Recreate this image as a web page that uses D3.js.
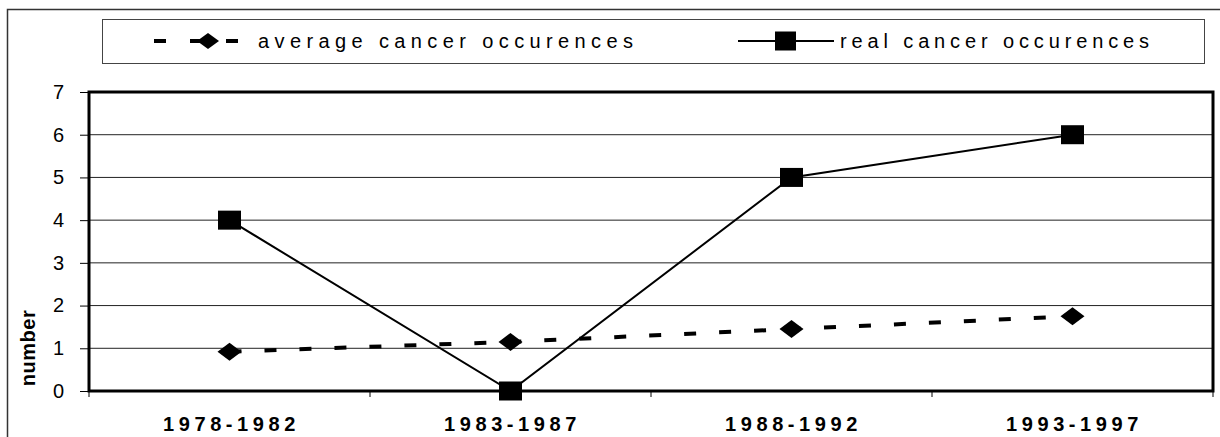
<!DOCTYPE html>
<html>
<head>
<meta charset="utf-8">
<script src="https://cdn.jsdelivr.net/npm/d3@7"></script>
<style>
    body { margin: 0; background: #fff; }
    svg { display: block; font-family: "Liberation Sans", Arial, sans-serif; }
</style>
</head>
<body>
<div id="chart"></div>
<script>
// data
const periods = ["1978-1982", "1983-1987", "1988-1992", "1993-1997"];
const averageCases = [0.92, 1.15, 1.45, 1.75];
const realCases = [4, 0, 5, 6];
const yTicks = [0, 1, 2, 3, 4, 5, 6, 7];
const seriesNames = ["average cancer occurences", "real cancer occurences"];

const width = 1220, height = 437;
const margin = { top: 92, right: 7, bottom: 46, left: 89 };

const svg = d3.select("#chart")
    .append("svg")
    .attr("width", width)
    .attr("height", height);

// outer frame (runs off the right and bottom edge)
svg.append("rect")
    .attr("x", 7.5).attr("y", 9.5)
    .attr("width", width).attr("height", height)
    .attr("fill", "none")
    .attr("stroke", "#333")
    .attr("stroke-width", 1.5);

// scales
const x = d3.scaleBand()
    .domain(periods)
    .range([margin.left, width - margin.right])
    .padding(0);

const y = d3.scaleLinear()
    .domain([0, 7])
    .range([height - margin.bottom, margin.top]);

const plotL = margin.left, plotR = width - margin.right;
const plotT = margin.top, plotB = height - margin.bottom;

// gridlines
svg.append("g")
    .selectAll("line")
    .data(yTicks.filter(d => d > 0 && d < 7))
    .join("line")
    .attr("x1", plotL).attr("x2", plotR)
    .attr("y1", d => y(d)).attr("y2", d => y(d))
    .attr("stroke", "#222")
    .attr("stroke-width", 1);

// Y axis
const yAxis = svg.append("g")
    .attr("transform", `translate(${plotL},0)`)
    .call(d3.axisLeft(y).tickValues(yTicks).tickSize(9).tickPadding(16).tickFormat(d3.format("d")));
yAxis.select(".domain").remove();
yAxis.selectAll(".tick line").attr("stroke", "#000");
yAxis.selectAll(".tick text")
    .attr("font-size", 20)
    .attr("font-family", "Liberation Sans, Arial, sans-serif")
    .attr("fill", "#000");

// X axis ticks at band boundaries
const bounds = periods.map(p => x(p)).concat([x.range()[1]]);
svg.append("g")
    .selectAll("line")
    .data(bounds)
    .join("line")
    .attr("x1", d => d).attr("x2", d => d)
    .attr("y1", plotB).attr("y2", plotB + 6)
    .attr("stroke", "#000")
    .attr("stroke-width", 1);

// category labels
svg.append("g")
    .selectAll("text")
    .data(periods)
    .join("text")
    .attr("x", d => x(d) + x.bandwidth() / 2 + 2)
    .attr("y", 431)
    .attr("text-anchor", "middle")
    .attr("font-size", 20)
    .attr("font-weight", "bold")
    .attr("letter-spacing", 4.6)
    .text(d => d);

// plot frame
svg.append("rect")
    .attr("x", plotL).attr("y", plotT)
    .attr("width", plotR - plotL).attr("height", plotB - plotT)
    .attr("fill", "none")
    .attr("stroke", "#000")
    .attr("stroke-width", 3);

// axis title
svg.append("text")
    .attr("transform", `translate(35,348) rotate(-90)`)
    .attr("text-anchor", "middle")
    .attr("font-size", 20)
    .attr("font-weight", "bold")
    .attr("letter-spacing", 0.5)
    .text("number");

const cx = d => x(d) + x.bandwidth() / 2;

const avgData = periods.map((p, i) => ({ p, v: averageCases[i] }));
const realData = periods.map((p, i) => ({ p, v: realCases[i] }));

const line = d3.line().x(d => cx(d.p)).y(d => y(d.v));

// average line (dashed)
svg.append("path")
    .datum(avgData)
    .attr("d", line)
    .attr("fill", "none")
    .attr("stroke", "#000")
    .attr("stroke-width", 4)
    .attr("stroke-dasharray", "12,23");

// real line
svg.append("path")
    .datum(realData)
    .attr("d", line)
    .attr("fill", "none")
    .attr("stroke", "#000")
    .attr("stroke-width", 2);

function diamond(px, py, w, h) {
    return `M${px - w / 2},${py}L${px},${py - h / 2}L${px + w / 2},${py}L${px},${py + h / 2}Z`;
}

svg.append("g")
    .selectAll("path")
    .data(avgData)
    .join("path")
    .attr("d", d => diamond(cx(d.p), y(d.v), 24, 18))
    .attr("fill", "#000");

svg.append("g")
    .selectAll("rect")
    .data(realData)
    .join("rect")
    .attr("x", d => cx(d.p) - 11.5)
    .attr("y", d => y(d.v) - 9.5)
    .attr("width", 23)
    .attr("height", 19)
    .attr("fill", "#000");

// legend
const legend = svg.append("g");
legend.append("rect")
    .attr("x", 102.5).attr("y", 19.5)
    .attr("width", 1102).attr("height", 44)
    .attr("fill", "#fff")
    .attr("stroke", "#444")
    .attr("stroke-width", 1);

const ly = 41;
legend.append("line")
    .attr("x1", 154).attr("x2", 238)
    .attr("y1", ly).attr("y2", ly)
    .attr("stroke", "#000")
    .attr("stroke-width", 4)
    .attr("stroke-dasharray", "12,24");
legend.append("path")
    .attr("d", diamond(208, ly, 22, 16))
    .attr("fill", "#000");
legend.append("text")
    .attr("x", 258).attr("y", ly + 7)
    .attr("font-size", 20)
    .attr("textLength", 375)
    .attr("lengthAdjust", "spacing")
    .text(seriesNames[0]);

legend.append("line")
    .attr("x1", 738).attr("x2", 834)
    .attr("y1", ly).attr("y2", ly)
    .attr("stroke", "#000")
    .attr("stroke-width", 2);
legend.append("rect")
    .attr("x", 775).attr("y", ly - 9.5)
    .attr("width", 21).attr("height", 19)
    .attr("fill", "#000");
legend.append("text")
    .attr("x", 840).attr("y", ly + 7)
    .attr("font-size", 20)
    .attr("textLength", 309)
    .attr("lengthAdjust", "spacing")
    .text(seriesNames[1]);
</script>
</body>
</html>
